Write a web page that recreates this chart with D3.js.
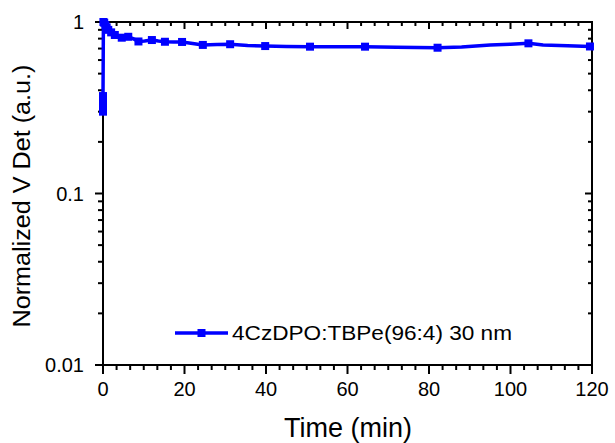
<!DOCTYPE html>
<html>
<head>
<meta charset="utf-8">
<script src="https://cdn.jsdelivr.net/npm/d3@7"></script>
<style>
  body { margin: 0; background: #fff; }
  svg { display: block; font-family: Arial, "Liberation Sans", sans-serif; }
</style>
</head>
<body>
<svg id="chart" width="615" height="443"></svg>
<script>
// time (min) and normalized V Det readings
const time = [0, 0, 0, 0, 0.1, 0.3, 0.6, 0.9, 1.3, 2.0, 2.9, 3.7, 4.6, 5.4, 6.2, 7.4, 8.7, 10.2, 12.0, 13.6, 15.2, 17.3, 19.4, 22.0, 24.5, 28.0, 31.2, 35.5, 39.8, 45.0, 50.8, 57.0, 64.3, 72.0, 82.1, 88.0, 95.0, 100.0, 104.4, 108.0, 114.0, 119.5];
const vdet = [0.30, 0.32, 0.35, 0.37, 1.0, 0.99, 0.96, 0.93, 0.9, 0.87, 0.84, 0.82, 0.81, 0.815, 0.82, 0.80, 0.77, 0.775, 0.785, 0.775, 0.767, 0.765, 0.765, 0.75, 0.735, 0.74, 0.742, 0.73, 0.724, 0.72, 0.718, 0.718, 0.718, 0.712, 0.708, 0.715, 0.735, 0.742, 0.751, 0.735, 0.728, 0.72];
// which points carry a square symbol
const markerIdx = [0, 1, 2, 3, 4, 5, 6, 7, 8, 9, 10, 12, 14, 16, 18, 20, 22, 24, 26, 28, 30, 32, 34, 38, 41];

const xTicks = [0, 20, 40, 60, 80, 100, 120];
const yTicks = [0.01, 0.1, 1];
const yTickLabels = ["0.01", "0.1", "1"];
const seriesName = "4CzDPO:TBPe(96:4) 30 nm";

const blue = "#0000ff";
const svg = d3.select("#chart");

const x = d3.scaleLinear().domain([0, 120]).range([103, 592]);
const y = d3.scaleLog().domain([0.01, 1]).range([365, 22]);

// minor ticks
const xMinor = d3.range(0, 120.01, 20 / 6).filter(function (v) {
  return Math.abs(v / 20 - Math.round(v / 20)) > 1e-6;
});
const yMinor = [];
[0.01, 0.1].forEach(function (d) {
  for (let k = 2; k <= 9; k++) yMinor.push(d * k);
});

const axes = svg.append("g").attr("stroke", "#000").attr("stroke-width", 2);

// bottom
axes.selectAll(".xmaj").data(xTicks).join("line")
  .attr("x1", d => x(d)).attr("x2", d => x(d)).attr("y1", 365).attr("y2", 374);
axes.selectAll(".xmin").data(xMinor).join("line")
  .attr("x1", d => x(d)).attr("x2", d => x(d)).attr("y1", 365).attr("y2", 370);
// top (inward)
axes.selectAll(".xmajt").data(xTicks).join("line")
  .attr("x1", d => x(d)).attr("x2", d => x(d)).attr("y1", 22).attr("y2", 29);
axes.selectAll(".xmint").data(xMinor).join("line")
  .attr("x1", d => x(d)).attr("x2", d => x(d)).attr("y1", 22).attr("y2", 26);
// left (outward)
axes.selectAll(".ymaj").data(yTicks).join("line")
  .attr("y1", d => y(d)).attr("y2", d => y(d)).attr("x1", 95).attr("x2", 103);
axes.selectAll(".ymin").data(yMinor).join("line")
  .attr("y1", d => y(d)).attr("y2", d => y(d)).attr("x1", 98).attr("x2", 103);
// right (inward)
axes.selectAll(".ymajr").data(yTicks).join("line")
  .attr("y1", d => y(d)).attr("y2", d => y(d)).attr("x1", 585).attr("x2", 592);
axes.selectAll(".yminr").data(yMinor).join("line")
  .attr("y1", d => y(d)).attr("y2", d => y(d)).attr("x1", 588).attr("x2", 592);

axes.append("rect")
  .attr("x", 103).attr("y", 22).attr("width", 489).attr("height", 343)
  .attr("fill", "none");

// tick labels
svg.append("g").selectAll("text").data(xTicks).join("text")
  .attr("x", d => x(d)).attr("y", 396)
  .attr("text-anchor", "middle").attr("font-size", 20)
  .text(d => d);

svg.append("g").selectAll("text").data(yTicks).join("text")
  .attr("x", 84).attr("y", d => y(d) + 7)
  .attr("text-anchor", "end").attr("font-size", 20)
  .text((d, i) => yTickLabels[i]);

// axis titles
svg.append("text")
  .attr("x", 348).attr("y", 437)
  .attr("text-anchor", "middle").attr("font-size", 27)
  .text("Time (min)");

svg.append("text")
  .attr("transform", "translate(30,196) rotate(-90)")
  .attr("text-anchor", "middle").attr("font-size", 23)
  .attr("textLength", 263).attr("lengthAdjust", "spacingAndGlyphs")
  .text("Normalized V Det (a.u.)");

// series
const pts = time.map((t, i) => [t, vdet[i]]);
const line = d3.line().x(d => x(d[0])).y(d => y(d[1]));

svg.append("path")
  .datum(pts)
  .attr("d", line)
  .attr("fill", "none")
  .attr("stroke", blue)
  .attr("stroke-width", 3.5)
  .attr("stroke-linejoin", "round");

svg.append("g").selectAll("rect").data(markerIdx.map(i => pts[i])).join("rect")
  .attr("x", d => x(d[0]) - 4).attr("y", d => y(d[1]) - 4)
  .attr("width", 8).attr("height", 8)
  .attr("fill", blue);

// legend
const leg = svg.append("g");
leg.append("line")
  .attr("x1", 175).attr("x2", 228).attr("y1", 333).attr("y2", 333)
  .attr("stroke", blue).attr("stroke-width", 3.5);
leg.append("rect")
  .attr("x", 197.5).attr("y", 329).attr("width", 8).attr("height", 8)
  .attr("fill", blue);
leg.append("text")
  .attr("x", 232).attr("y", 340).attr("font-size", 20)
  .attr("textLength", 280).attr("lengthAdjust", "spacingAndGlyphs")
  .text(seriesName);
</script>
</body>
</html>
